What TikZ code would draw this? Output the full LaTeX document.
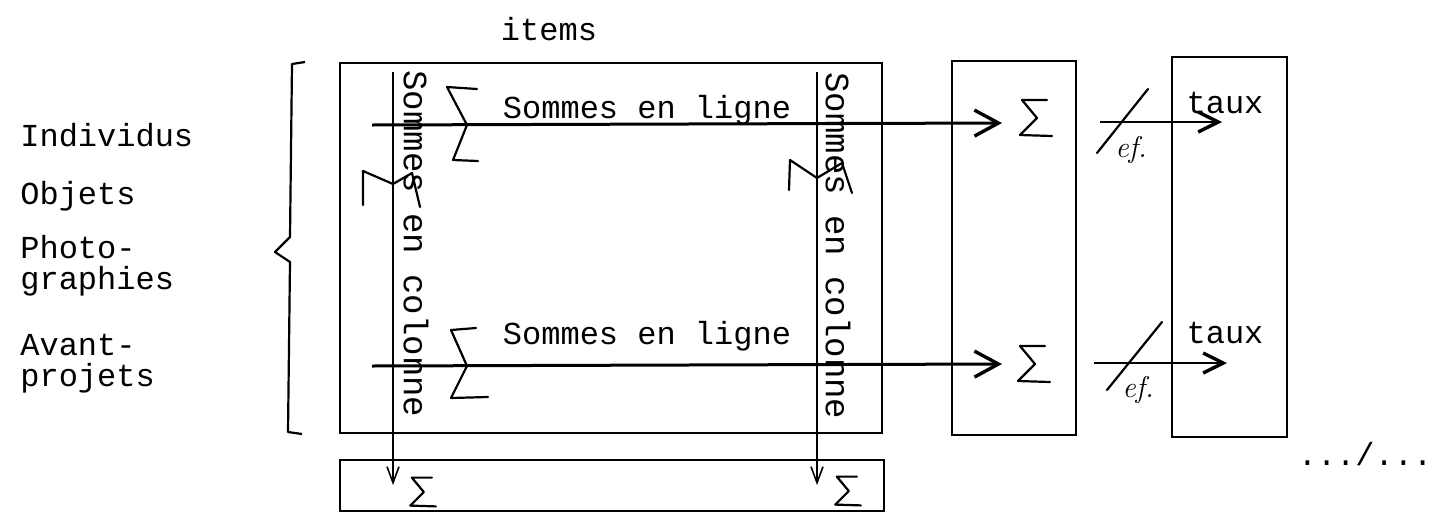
\documentclass[tikz,border=0pt]{standalone}
\usepackage{fontspec}
\setmonofont{Liberation Mono}
\usetikzlibrary{arrows.meta}
\tikzset{
  typed/.style={font=\ttfamily\fontsize{16}{19}\selectfont, inner sep=0pt},
  tallyped/.style={font=\ttfamily\fontsize{17}{19}\selectfont, inner sep=0pt},
  scrawl/.style={font=\itshape\fontsize{15}{15}\selectfont, inner sep=0pt},
  frame/.style={line width=1.2pt},
  rowarrow/.style={line width=1.5pt, -{Straight Barb[length=12pt,width=13pt,line width=1.7pt]}},
  ratearrow/.style={line width=1.4pt, -{Straight Barb[length=10pt,width=10pt,line width=1.7pt]}},
  colarrow/.style={line width=0.7pt, -{Straight Barb[length=8pt,width=6pt,line width=0.8pt]}},
  hand/.style={line width=1.1pt, line join=round, line cap=round},
  sumsign/.pic={\draw[hand] (11,-18) -- (-14,-18) -- (1,0) -- (-16,17) -- (16,18);}
}
\begin{document}
\begin{tikzpicture}[x=0.5pt,y=-0.5pt]
\useasboundingbox (0,0) rectangle (1436,515);

\node[typed, anchor=base] (items) at (549,40) {items};
\node[typed, anchor=base west] (individus) at (20,146) {Individus};
\node[typed, anchor=base west] (objets) at (20,204) {Objets};
\node[typed, anchor=base west] (photos) at (20,258) {Photo-};
\node[typed, anchor=base west] (photosb) at (20,289) {graphies};
\node[typed, anchor=base west] (avant) at (20,355) {Avant-};
\node[typed, anchor=base west] (avantb) at (20,386) {projets};

\draw[line width=1.1pt, line join=round] (305,62) -- (292,64) -- (290,237) -- (275,252) -- (290,262) -- (288,432) -- (302,434);

\draw[frame] (340,63) rectangle (882,433);
\draw[frame] (340,460) rectangle (884,511);
\draw[frame] (952,61) rectangle (1076,435);
\draw[frame] (1172,57) rectangle (1287,437);

\coordinate (colLtop) at (393,72);
\coordinate (colLend) at (393,485);
\coordinate (colRtop) at (817,72);
\coordinate (colRend) at (817,485);
\draw[colarrow] (colLtop) -- (colLend);
\draw[colarrow] (colRtop) -- (colRend);
\node[tallyped, rotate=-90] (colsumL) at (416,244) {Sommes en colonne};
\node[tallyped, rotate=-90] (colsumR) at (838,246) {Sommes en colonne};
\draw[hand] (363,205) -- (363,171) -- (393,184) -- (412,173) -- (420,207);
\draw[hand] (789,190) -- (790,160) -- (817,178) -- (842,163) -- (852,193);
\pic[scale=0.8] at (423,492) {sumsign};
\pic[scale=0.8] at (848,491) {sumsign};

\coordinate (rowTstart) at (372,125);
\coordinate (rowTend) at (1002,123);
\coordinate (rowBstart) at (372,366);
\coordinate (rowBend) at (1002,364);
\draw[rowarrow] (rowTstart) -- (rowTend);
\draw[rowarrow] (rowBstart) -- (rowBend);
\node[typed, anchor=base] (rowsumT) at (647,118) {Sommes en ligne};
\node[typed, anchor=base] (rowsumB) at (647,344) {Sommes en ligne};
\draw[hand] (477,89) -- (447,87) -- (467,125) -- (453,160) -- (478,161);
\draw[hand] (476,328) -- (451,330) -- (467,366) -- (451,398) -- (488,397);
\pic at (1036,118) {sumsign};
\pic at (1034,364) {sumsign};

\coordinate (rateTstart) at (1100,122);
\coordinate (rateTend) at (1222,122);
\coordinate (rateBstart) at (1094,363);
\coordinate (rateBend) at (1227,363);
\draw[ratearrow] (rateTstart) -- (rateTend);
\draw[ratearrow] (rateBstart) -- (rateBend);
\draw[hand] (1097,153) -- (1148,89);
\draw[hand] (1107,390) -- (1162,322);
\node[scrawl] (effT) at (1131,150) {ef.};
\node[scrawl] (effB) at (1138,390) {ef.};
\node[typed, anchor=base] (tauxT) at (1225,113) {taux};
\node[typed, anchor=base] (tauxB) at (1225,343) {taux};

\node[typed, anchor=base] (suite) at (1365,465) {.../...};
\end{tikzpicture}
\end{document}
